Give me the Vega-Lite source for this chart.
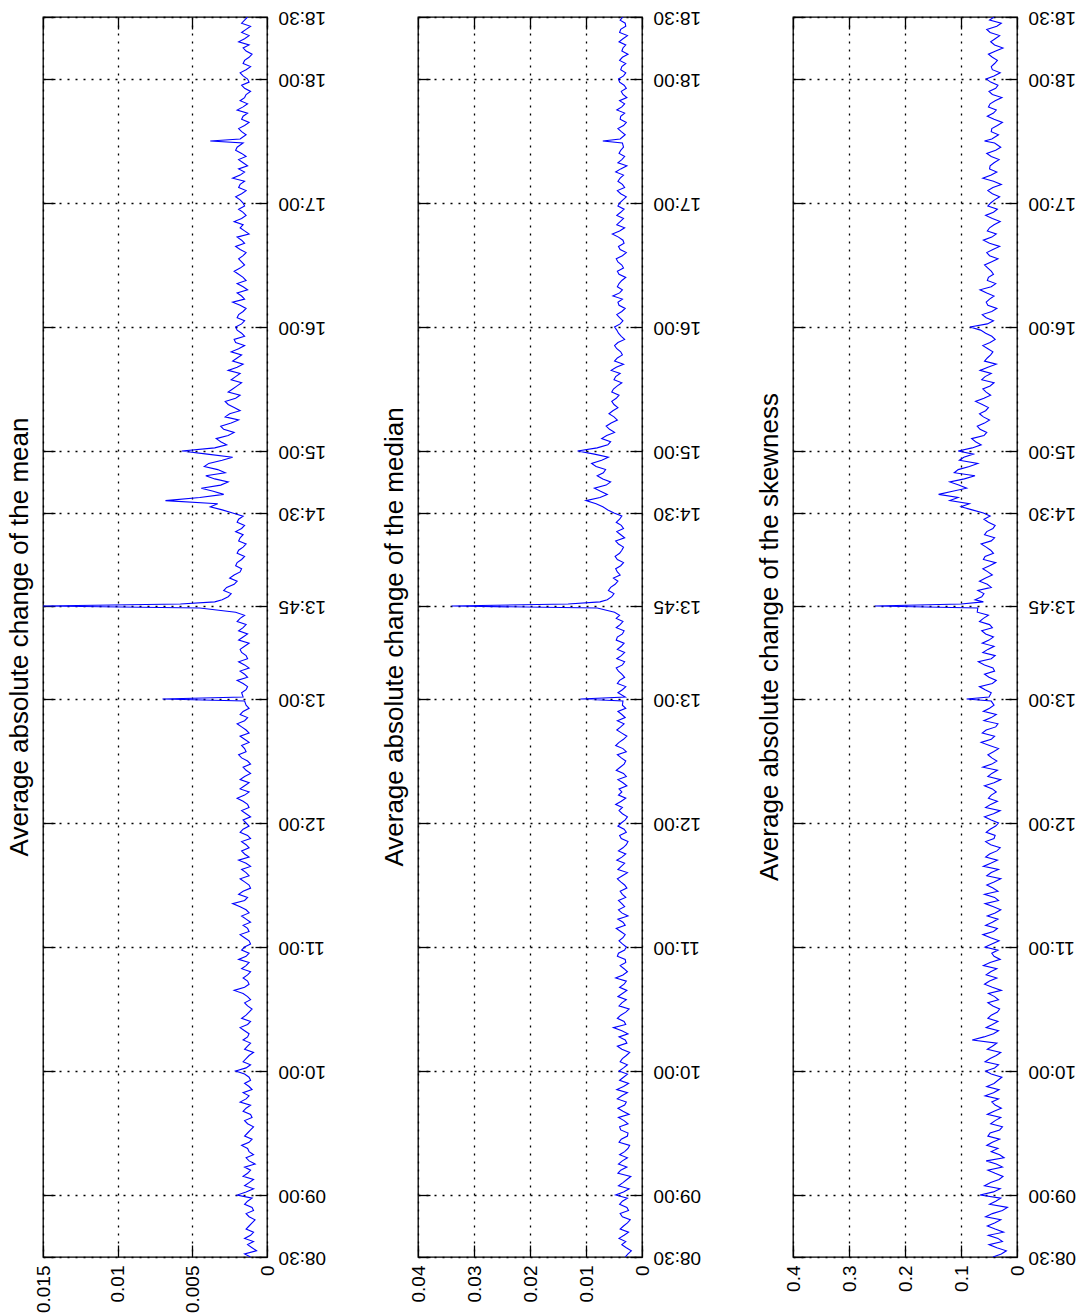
{
"$schema": "https://vega.github.io/schema/vega-lite/v6.json",
"padding": {"left": 6, "top": 6, "right": 0, "bottom": 0},
"bounds": "flush",
"spacing": 151,
"datasets": {"d": [
{"m":510,"a":0.0011,"b":0.0030,"c":0.043},
{"m":513,"a":0.0007,"b":0.0019,"c":0.019},
{"m":516,"a":0.0013,"b":0.0036,"c":0.050},
{"m":519,"a":0.0015,"b":0.0041,"c":0.034},
{"m":522,"a":0.0009,"b":0.0024,"c":0.024},
{"m":525,"a":0.0012,"b":0.0033,"c":0.053},
{"m":528,"a":0.0008,"b":0.0021,"c":0.029},
{"m":531,"a":0.0014,"b":0.0039,"c":0.044},
{"m":534,"a":0.0010,"b":0.0027,"c":0.017},
{"m":537,"a":0.0013,"b":0.0035,"c":0.038},
{"m":540,"a":0.0020,"b":0.0047,"c":0.066},
{"m":543,"a":0.0009,"b":0.0023,"c":0.030},
{"m":546,"a":0.0012,"b":0.0034,"c":0.047},
{"m":549,"a":0.0016,"b":0.0020,"c":0.025},
{"m":552,"a":0.0011,"b":0.0038,"c":0.052},
{"m":555,"a":0.0008,"b":0.0042,"c":0.037},
{"m":558,"a":0.0014,"b":0.0026,"c":0.023},
{"m":561,"a":0.0012,"b":0.0031,"c":0.046},
{"m":564,"a":0.0017,"b":0.0022,"c":0.054},
{"m":567,"a":0.0010,"b":0.0037,"c":0.031},
{"m":570,"a":0.0013,"b":0.0025,"c":0.048},
{"m":573,"a":0.0009,"b":0.0040,"c":0.026},
{"m":576,"a":0.0015,"b":0.0032,"c":0.039},
{"m":579,"a":0.0011,"b":0.0023,"c":0.053},
{"m":582,"a":0.0014,"b":0.0043,"c":0.028},
{"m":585,"a":0.0018,"b":0.0028,"c":0.045},
{"m":588,"a":0.0012,"b":0.0036,"c":0.057},
{"m":591,"a":0.0010,"b":0.0045,"c":0.032},
{"m":594,"a":0.0015,"b":0.0024,"c":0.041},
{"m":597,"a":0.0012,"b":0.0033,"c":0.027},
{"m":600,"a":0.0021,"b":0.0041,"c":0.056},
{"m":603,"a":0.0011,"b":0.0026,"c":0.033},
{"m":606,"a":0.0014,"b":0.0035,"c":0.048},
{"m":609,"a":0.0009,"b":0.0022,"c":0.029},
{"m":612,"a":0.0013,"b":0.0044,"c":0.044},
{"m":615,"a":0.0016,"b":0.0030,"c":0.080},
{"m":618,"a":0.0012,"b":0.0025,"c":0.042},
{"m":621,"a":0.0018,"b":0.0051,"c":0.055},
{"m":624,"a":0.0011,"b":0.0032,"c":0.034},
{"m":627,"a":0.0014,"b":0.0038,"c":0.046},
{"m":630,"a":0.0010,"b":0.0023,"c":0.031},
{"m":633,"a":0.0015,"b":0.0036,"c":0.052},
{"m":636,"a":0.0013,"b":0.0043,"c":0.040},
{"m":639,"a":0.0022,"b":0.0027,"c":0.028},
{"m":642,"a":0.0012,"b":0.0032,"c":0.058},
{"m":645,"a":0.0016,"b":0.0047,"c":0.036},
{"m":648,"a":0.0011,"b":0.0026,"c":0.047},
{"m":651,"a":0.0014,"b":0.0039,"c":0.060},
{"m":654,"a":0.0019,"b":0.0030,"c":0.030},
{"m":657,"a":0.0012,"b":0.0042,"c":0.045},
{"m":660,"a":0.0015,"b":0.0028,"c":0.057},
{"m":663,"a":0.0012,"b":0.0041,"c":0.032},
{"m":666,"a":0.0018,"b":0.0030,"c":0.061},
{"m":669,"a":0.0013,"b":0.0046,"c":0.035},
{"m":672,"a":0.0011,"b":0.0034,"c":0.044},
{"m":675,"a":0.0017,"b":0.0025,"c":0.053},
{"m":678,"a":0.0014,"b":0.0042,"c":0.029},
{"m":681,"a":0.0023,"b":0.0036,"c":0.057},
{"m":684,"a":0.0013,"b":0.0029,"c":0.040},
{"m":687,"a":0.0016,"b":0.0039,"c":0.034},
{"m":690,"a":0.0012,"b":0.0031,"c":0.054},
{"m":693,"a":0.0018,"b":0.0044,"c":0.029},
{"m":696,"a":0.0014,"b":0.0026,"c":0.046},
{"m":699,"a":0.0011,"b":0.0037,"c":0.060},
{"m":702,"a":0.0019,"b":0.0045,"c":0.035},
{"m":705,"a":0.0015,"b":0.0029,"c":0.049},
{"m":708,"a":0.0012,"b":0.0034,"c":0.030},
{"m":711,"a":0.0017,"b":0.0025,"c":0.056},
{"m":714,"a":0.0013,"b":0.0040,"c":0.039},
{"m":717,"a":0.0016,"b":0.0032,"c":0.048},
{"m":720,"a":0.0014,"b":0.0037,"c":0.033},
{"m":723,"a":0.0011,"b":0.0026,"c":0.058},
{"m":726,"a":0.0017,"b":0.0041,"c":0.030},
{"m":729,"a":0.0013,"b":0.0047,"c":0.047},
{"m":732,"a":0.0020,"b":0.0029,"c":0.051},
{"m":735,"a":0.0012,"b":0.0036,"c":0.037},
{"m":738,"a":0.0015,"b":0.0027,"c":0.058},
{"m":741,"a":0.0018,"b":0.0043,"c":0.029},
{"m":744,"a":0.0011,"b":0.0033,"c":0.045},
{"m":747,"a":0.0016,"b":0.0039,"c":0.061},
{"m":750,"a":0.0013,"b":0.0029,"c":0.036},
{"m":753,"a":0.0019,"b":0.0044,"c":0.052},
{"m":756,"a":0.0015,"b":0.0034,"c":0.033},
{"m":759,"a":0.0012,"b":0.0041,"c":0.064},
{"m":762,"a":0.0018,"b":0.0027,"c":0.040},
{"m":765,"a":0.0014,"b":0.0045,"c":0.055},
{"m":768,"a":0.0020,"b":0.0032,"c":0.034},
{"m":771,"a":0.0013,"b":0.0030,"c":0.046},
{"m":774,"a":0.0016,"b":0.0043,"c":0.060},
{"m":777,"a":0.0014,"b":0.0035,"c":0.041},
{"m":779,"a":0.0015,"b":0.0034,"c":0.046},
{"m":780,"a":0.0070,"b":0.0110,"c":0.090},
{"m":781,"a":0.0016,"b":0.0030,"c":0.050},
{"m":783,"a":0.0017,"b":0.0043,"c":0.046},
{"m":786,"a":0.0013,"b":0.0029,"c":0.067},
{"m":789,"a":0.0020,"b":0.0040,"c":0.037},
{"m":792,"a":0.0015,"b":0.0036,"c":0.058},
{"m":795,"a":0.0012,"b":0.0046,"c":0.043},
{"m":798,"a":0.0019,"b":0.0031,"c":0.069},
{"m":801,"a":0.0014,"b":0.0037,"c":0.039},
{"m":804,"a":0.0018,"b":0.0044,"c":0.052},
{"m":807,"a":0.0012,"b":0.0032,"c":0.062},
{"m":810,"a":0.0016,"b":0.0044,"c":0.042},
{"m":813,"a":0.0019,"b":0.0032,"c":0.063},
{"m":816,"a":0.0014,"b":0.0039,"c":0.049},
{"m":819,"a":0.0018,"b":0.0046,"c":0.060},
{"m":822,"a":0.0021,"b":0.0049,"c":0.071},
{"m":824,"a":0.0045,"b":0.0080,"c":0.070},
{"m":825,"a":0.0150,"b":0.0340,"c":0.254},
{"m":826,"a":0.0058,"b":0.0132,"c":0.100},
{"m":827,"a":0.0035,"b":0.0075,"c":0.060},
{"m":828,"a":0.0030,"b":0.0062,"c":0.075},
{"m":831,"a":0.0024,"b":0.0050,"c":0.059},
{"m":834,"a":0.0027,"b":0.0056,"c":0.046},
{"m":837,"a":0.0020,"b":0.0043,"c":0.067},
{"m":840,"a":0.0022,"b":0.0039,"c":0.044},
{"m":843,"a":0.0017,"b":0.0047,"c":0.061},
{"m":846,"a":0.0020,"b":0.0033,"c":0.038},
{"m":849,"a":0.0015,"b":0.0048,"c":0.057},
{"m":852,"a":0.0019,"b":0.0036,"c":0.047},
{"m":855,"a":0.0014,"b":0.0042,"c":0.064},
{"m":858,"a":0.0018,"b":0.0031,"c":0.040},
{"m":861,"a":0.0021,"b":0.0045,"c":0.054},
{"m":864,"a":0.0015,"b":0.0037,"c":0.039},
{"m":867,"a":0.0019,"b":0.0040,"c":0.059},
{"m":870,"a":0.0023,"b":0.0050,"c":0.060},
{"m":873,"a":0.0038,"b":0.0070,"c":0.100},
{"m":876,"a":0.0068,"b":0.0100,"c":0.120},
{"m":879,"a":0.0029,"b":0.0062,"c":0.140},
{"m":882,"a":0.0044,"b":0.0085,"c":0.090},
{"m":885,"a":0.0026,"b":0.0056,"c":0.120},
{"m":888,"a":0.0041,"b":0.0080,"c":0.075},
{"m":891,"a":0.0033,"b":0.0065,"c":0.105},
{"m":894,"a":0.0039,"b":0.0090,"c":0.070},
{"m":897,"a":0.0023,"b":0.0060,"c":0.095},
{"m":900,"a":0.0057,"b":0.0115,"c":0.105},
{"m":903,"a":0.0027,"b":0.0061,"c":0.064},
{"m":906,"a":0.0034,"b":0.0072,"c":0.081},
{"m":909,"a":0.0022,"b":0.0049,"c":0.054},
{"m":912,"a":0.0031,"b":0.0064,"c":0.071},
{"m":915,"a":0.0019,"b":0.0044,"c":0.049},
{"m":918,"a":0.0025,"b":0.0059,"c":0.067},
{"m":921,"a":0.0022,"b":0.0043,"c":0.051},
{"m":924,"a":0.0028,"b":0.0054,"c":0.074},
{"m":927,"a":0.0018,"b":0.0041,"c":0.047},
{"m":930,"a":0.0023,"b":0.0051,"c":0.061},
{"m":933,"a":0.0017,"b":0.0036,"c":0.041},
{"m":936,"a":0.0021,"b":0.0047,"c":0.057},
{"m":939,"a":0.0026,"b":0.0055,"c":0.066},
{"m":942,"a":0.0016,"b":0.0033,"c":0.037},
{"m":945,"a":0.0020,"b":0.0044,"c":0.053},
{"m":948,"a":0.0024,"b":0.0038,"c":0.043},
{"m":951,"a":0.0015,"b":0.0049,"c":0.061},
{"m":954,"a":0.0022,"b":0.0031,"c":0.039},
{"m":957,"a":0.0017,"b":0.0042,"c":0.056},
{"m":960,"a":0.0021,"b":0.0049,"c":0.084},
{"m":963,"a":0.0015,"b":0.0034,"c":0.042},
{"m":966,"a":0.0019,"b":0.0045,"c":0.062},
{"m":969,"a":0.0014,"b":0.0030,"c":0.036},
{"m":972,"a":0.0023,"b":0.0043,"c":0.055},
{"m":975,"a":0.0017,"b":0.0052,"c":0.041},
{"m":978,"a":0.0013,"b":0.0035,"c":0.066},
{"m":981,"a":0.0020,"b":0.0041,"c":0.038},
{"m":984,"a":0.0016,"b":0.0029,"c":0.051},
{"m":987,"a":0.0022,"b":0.0044,"c":0.046},
{"m":990,"a":0.0015,"b":0.0036,"c":0.058},
{"m":993,"a":0.0019,"b":0.0046,"c":0.034},
{"m":996,"a":0.0014,"b":0.0028,"c":0.054},
{"m":999,"a":0.0021,"b":0.0042,"c":0.031},
{"m":1002,"a":0.0017,"b":0.0034,"c":0.060},
{"m":1005,"a":0.0012,"b":0.0053,"c":0.037},
{"m":1008,"a":0.0018,"b":0.0031,"c":0.049},
{"m":1011,"a":0.0022,"b":0.0039,"c":0.030},
{"m":1014,"a":0.0014,"b":0.0045,"c":0.056},
{"m":1017,"a":0.0019,"b":0.0032,"c":0.035},
{"m":1020,"a":0.0016,"b":0.0040,"c":0.047},
{"m":1023,"a":0.0021,"b":0.0028,"c":0.031},
{"m":1026,"a":0.0014,"b":0.0044,"c":0.052},
{"m":1029,"a":0.0018,"b":0.0035,"c":0.028},
{"m":1032,"a":0.0023,"b":0.0039,"c":0.061},
{"m":1035,"a":0.0015,"b":0.0047,"c":0.036},
{"m":1038,"a":0.0013,"b":0.0027,"c":0.048},
{"m":1041,"a":0.0019,"b":0.0036,"c":0.032},
{"m":1044,"a":0.0017,"b":0.0041,"c":0.054},
{"m":1047,"a":0.0020,"b":0.0033,"c":0.029},
{"m":1049,"a":0.0016,"b":0.0035,"c":0.040},
{"m":1050,"a":0.0038,"b":0.0070,"c":0.058},
{"m":1051,"a":0.0018,"b":0.0039,"c":0.045},
{"m":1053,"a":0.0014,"b":0.0030,"c":0.033},
{"m":1056,"a":0.0019,"b":0.0043,"c":0.045},
{"m":1059,"a":0.0012,"b":0.0028,"c":0.026},
{"m":1062,"a":0.0016,"b":0.0038,"c":0.053},
{"m":1065,"a":0.0020,"b":0.0045,"c":0.037},
{"m":1068,"a":0.0013,"b":0.0031,"c":0.048},
{"m":1071,"a":0.0015,"b":0.0027,"c":0.027},
{"m":1074,"a":0.0011,"b":0.0037,"c":0.050},
{"m":1077,"a":0.0017,"b":0.0032,"c":0.034},
{"m":1080,"a":0.0013,"b":0.0042,"c":0.055},
{"m":1083,"a":0.0018,"b":0.0029,"c":0.030},
{"m":1086,"a":0.0011,"b":0.0036,"c":0.046},
{"m":1089,"a":0.0015,"b":0.0040,"c":0.035},
{"m":1092,"a":0.0010,"b":0.0025,"c":0.051},
{"m":1095,"a":0.0016,"b":0.0034,"c":0.025},
{"m":1098,"a":0.0019,"b":0.0041,"c":0.047},
{"m":1101,"a":0.0012,"b":0.0026,"c":0.031},
{"m":1104,"a":0.0014,"b":0.0038,"c":0.054},
{"m":1107,"a":0.0017,"b":0.0030,"c":0.028},
{"m":1110,"a":0.0013,"b":0.0034,"c":0.041},
{"m":511.5,"a":0.0015,"b":0.0025,"c":0.028},
{"m":514.5,"a":0.0010,"b":0.0028,"c":0.036},
{"m":517.5,"a":0.0009,"b":0.0029,"c":0.026},
{"m":520.5,"a":0.0011,"b":0.0032,"c":0.051},
{"m":523.5,"a":0.0014,"b":0.0039,"c":0.039},
{"m":526.5,"a":0.0010,"b":0.0026,"c":0.040},
{"m":529.5,"a":0.0012,"b":0.0035,"c":0.056},
{"m":532.5,"a":0.0009,"b":0.0024,"c":0.026},
{"m":535.5,"a":0.0015,"b":0.0040,"c":0.049},
{"m":538.5,"a":0.0010,"b":0.0026,"c":0.029},
{"m":541.5,"a":0.0014,"b":0.0033,"c":0.042},
{"m":544.5,"a":0.0015,"b":0.0042,"c":0.058},
{"m":547.5,"a":0.0009,"b":0.0027,"c":0.032},
{"m":550.5,"a":0.0013,"b":0.0043,"c":0.039},
{"m":553.5,"a":0.0015,"b":0.0027,"c":0.026},
{"m":556.5,"a":0.0012,"b":0.0035,"c":0.055},
{"m":559.5,"a":0.0009,"b":0.0040,"c":0.031},
{"m":562.5,"a":0.0013,"b":0.0025,"c":0.034},
{"m":565.5,"a":0.0012,"b":0.0041,"c":0.044},
{"m":568.5,"a":0.0015,"b":0.0026,"c":0.052},
{"m":571.5,"a":0.0011,"b":0.0038,"c":0.031},
{"m":574.5,"a":0.0013,"b":0.0025,"c":0.047},
{"m":577.5,"a":0.0010,"b":0.0042,"c":0.029},
{"m":580.5,"a":0.0016,"b":0.0034,"c":0.041},
{"m":583.5,"a":0.0011,"b":0.0031,"c":0.039},
{"m":586.5,"a":0.0014,"b":0.0044,"c":0.033},
{"m":589.5,"a":0.0016,"b":0.0026,"c":0.042},
{"m":592.5,"a":0.0012,"b":0.0033,"c":0.054},
{"m":595.5,"a":0.0011,"b":0.0040,"c":0.034},
{"m":598.5,"a":0.0015,"b":0.0026,"c":0.046},
{"m":601.5,"a":0.0014,"b":0.0033,"c":0.040},
{"m":604.5,"a":0.0016,"b":0.0039,"c":0.057},
{"m":607.5,"a":0.0012,"b":0.0028,"c":0.037},
{"m":610.5,"a":0.0015,"b":0.0036,"c":0.053},
{"m":613.5,"a":0.0011,"b":0.0027,"c":0.036},
{"m":616.5,"a":0.0013,"b":0.0041,"c":0.059},
{"m":619.5,"a":0.0015,"b":0.0036,"c":0.033},
{"m":622.5,"a":0.0013,"b":0.0029,"c":0.044},
{"m":625.5,"a":0.0017,"b":0.0044,"c":0.052},
{"m":628.5,"a":0.0012,"b":0.0029,"c":0.035},
{"m":631.5,"a":0.0013,"b":0.0041,"c":0.043},
{"m":634.5,"a":0.0011,"b":0.0028,"c":0.033},
{"m":637.5,"a":0.0016,"b":0.0035,"c":0.051},
{"m":640.5,"a":0.0015,"b":0.0040,"c":0.044},
{"m":643.5,"a":0.0013,"b":0.0028,"c":0.049},
{"m":646.5,"a":0.0013,"b":0.0034,"c":0.055},
{"m":649.5,"a":0.0017,"b":0.0032,"c":0.036},
{"m":652.5,"a":0.0012,"b":0.0029,"c":0.048},
{"m":655.5,"a":0.0014,"b":0.0044,"c":0.041},
{"m":658.5,"a":0.0017,"b":0.0031,"c":0.034},
{"m":661.5,"a":0.0011,"b":0.0035,"c":0.045},
{"m":664.5,"a":0.0015,"b":0.0034,"c":0.047},
{"m":667.5,"a":0.0012,"b":0.0038,"c":0.042},
{"m":670.5,"a":0.0016,"b":0.0030,"c":0.056},
{"m":673.5,"a":0.0014,"b":0.0043,"c":0.034},
{"m":676.5,"a":0.0012,"b":0.0036,"c":0.039},
{"m":679.5,"a":0.0018,"b":0.0031,"c":0.042},
{"m":682.5,"a":0.0015,"b":0.0042,"c":0.033},
{"m":685.5,"a":0.0019,"b":0.0035,"c":0.058},
{"m":688.5,"a":0.0011,"b":0.0027,"c":0.043},
{"m":691.5,"a":0.0015,"b":0.0038,"c":0.041},
{"m":694.5,"a":0.0012,"b":0.0035,"c":0.054},
{"m":697.5,"a":0.0017,"b":0.0043,"c":0.033},
{"m":700.5,"a":0.0014,"b":0.0031,"c":0.047},
{"m":703.5,"a":0.0012,"b":0.0036,"c":0.056},
{"m":706.5,"a":0.0017,"b":0.0042,"c":0.036},
{"m":709.5,"a":0.0014,"b":0.0028,"c":0.047},
{"m":712.5,"a":0.0011,"b":0.0037,"c":0.041},
{"m":715.5,"a":0.0018,"b":0.0028,"c":0.055},
{"m":718.5,"a":0.0012,"b":0.0043,"c":0.038},
{"m":721.5,"a":0.0016,"b":0.0030,"c":0.046},
{"m":724.5,"a":0.0014,"b":0.0035,"c":0.042},
{"m":727.5,"a":0.0012,"b":0.0035,"c":0.056},
{"m":730.5,"a":0.0016,"b":0.0037,"c":0.035},
{"m":733.5,"a":0.0015,"b":0.0042,"c":0.046},
{"m":736.5,"a":0.0018,"b":0.0041,"c":0.044},
{"m":739.5,"a":0.0012,"b":0.0034,"c":0.041},
{"m":742.5,"a":0.0015,"b":0.0028,"c":0.052},
{"m":745.5,"a":0.0014,"b":0.0046,"c":0.035},
{"m":748.5,"a":0.0011,"b":0.0032,"c":0.045},
{"m":751.5,"a":0.0017,"b":0.0037,"c":0.045},
{"m":754.5,"a":0.0014,"b":0.0028,"c":0.042},
{"m":757.5,"a":0.0017,"b":0.0047,"c":0.049},
{"m":760.5,"a":0.0015,"b":0.0033,"c":0.046},
{"m":763.5,"a":0.0012,"b":0.0036,"c":0.062},
{"m":766.5,"a":0.0017,"b":0.0038,"c":0.038},
{"m":769.5,"a":0.0015,"b":0.0044,"c":0.059},
{"m":772.5,"a":0.0018,"b":0.0036,"c":0.037},
{"m":775.5,"a":0.0012,"b":0.0029,"c":0.049},
{"m":784.5,"a":0.0014,"b":0.0035,"c":0.057},
{"m":787.5,"a":0.0016,"b":0.0044,"c":0.044},
{"m":790.5,"a":0.0013,"b":0.0031,"c":0.050},
{"m":793.5,"a":0.0018,"b":0.0042,"c":0.040},
{"m":796.5,"a":0.0015,"b":0.0035,"c":0.058},
{"m":799.5,"a":0.0013,"b":0.0045,"c":0.046},
{"m":802.5,"a":0.0017,"b":0.0031,"c":0.061},
{"m":805.5,"a":0.0015,"b":0.0037,"c":0.041},
{"m":808.5,"a":0.0019,"b":0.0046,"c":0.050},
{"m":811.5,"a":0.0013,"b":0.0035,"c":0.056},
{"m":814.5,"a":0.0016,"b":0.0046,"c":0.044},
{"m":817.5,"a":0.0020,"b":0.0034,"c":0.067},
{"m":820.5,"a":0.0015,"b":0.0040,"c":0.051},
{"m":829.5,"a":0.0026,"b":0.0054,"c":0.063},
{"m":832.5,"a":0.0029,"b":0.0060,"c":0.070},
{"m":835.5,"a":0.0022,"b":0.0048,"c":0.053},
{"m":838.5,"a":0.0025,"b":0.0051,"c":0.056},
{"m":841.5,"a":0.0018,"b":0.0044,"c":0.052},
{"m":844.5,"a":0.0021,"b":0.0038,"c":0.049},
{"m":847.5,"a":0.0017,"b":0.0044,"c":0.060},
{"m":850.5,"a":0.0020,"b":0.0040,"c":0.042},
{"m":853.5,"a":0.0016,"b":0.0033,"c":0.055},
{"m":856.5,"a":0.0019,"b":0.0047,"c":0.046},
{"m":859.5,"a":0.0016,"b":0.0038,"c":0.058},
{"m":862.5,"a":0.0017,"b":0.0033,"c":0.043},
{"m":865.5,"a":0.0020,"b":0.0046,"c":0.051},
{"m":868.5,"a":0.0016,"b":0.0036,"c":0.048},
{"m":871.5,"a":0.0030,"b":0.0061,"c":0.080},
{"m":874.5,"a":0.0033,"b":0.0082,"c":0.085},
{"m":877.5,"a":0.0045,"b":0.0075,"c":0.105},
{"m":880.5,"a":0.0036,"b":0.0074,"c":0.115},
{"m":883.5,"a":0.0031,"b":0.0064,"c":0.104},
{"m":886.5,"a":0.0035,"b":0.0070,"c":0.094},
{"m":889.5,"a":0.0028,"b":0.0069,"c":0.112},
{"m":892.5,"a":0.0042,"b":0.0082,"c":0.085},
{"m":895.5,"a":0.0030,"b":0.0072,"c":0.103},
{"m":898.5,"a":0.0040,"b":0.0085,"c":0.078},
{"m":901.5,"a":0.0035,"b":0.0080,"c":0.080},
{"m":904.5,"a":0.0031,"b":0.0056,"c":0.074},
{"m":907.5,"a":0.0026,"b":0.0063,"c":0.059},
{"m":910.5,"a":0.0029,"b":0.0058,"c":0.066},
{"m":913.5,"a":0.0024,"b":0.0055,"c":0.058},
{"m":916.5,"a":0.0028,"b":0.0050,"c":0.060},
{"m":919.5,"a":0.0018,"b":0.0052,"c":0.056},
{"m":922.5,"a":0.0026,"b":0.0050,"c":0.062},
{"m":925.5,"a":0.0021,"b":0.0046,"c":0.059},
{"m":928.5,"a":0.0026,"b":0.0054,"c":0.055},
{"m":931.5,"a":0.0020,"b":0.0044,"c":0.048},
{"m":934.5,"a":0.0024,"b":0.0050,"c":0.063},
{"m":937.5,"a":0.0018,"b":0.0039,"c":0.046},
{"m":940.5,"a":0.0020,"b":0.0046,"c":0.052},
{"m":943.5,"a":0.0023,"b":0.0049,"c":0.058},
{"m":946.5,"a":0.0017,"b":0.0035,"c":0.047},
{"m":949.5,"a":0.0019,"b":0.0045,"c":0.052},
{"m":952.5,"a":0.0021,"b":0.0043,"c":0.048},
{"m":955.5,"a":0.0015,"b":0.0037,"c":0.045},
{"m":958.5,"a":0.0020,"b":0.0045,"c":0.065},
{"m":961.5,"a":0.0017,"b":0.0039,"c":0.053},
{"m":964.5,"a":0.0020,"b":0.0040,"c":0.055},
{"m":967.5,"a":0.0016,"b":0.0036,"c":0.045},
{"m":970.5,"a":0.0018,"b":0.0041,"c":0.052},
{"m":973.5,"a":0.0015,"b":0.0035,"c":0.049},
{"m":976.5,"a":0.0020,"b":0.0040,"c":0.054},
{"m":979.5,"a":0.0016,"b":0.0044,"c":0.046},
{"m":982.5,"a":0.0014,"b":0.0036,"c":0.053},
{"m":985.5,"a":0.0019,"b":0.0041,"c":0.042},
{"m":988.5,"a":0.0018,"b":0.0033,"c":0.052},
{"m":991.5,"a":0.0017,"b":0.0043,"c":0.046},
{"m":994.5,"a":0.0016,"b":0.0035,"c":0.049},
{"m":997.5,"a":0.0018,"b":0.0039,"c":0.043},
{"m":1000.5,"a":0.0015,"b":0.0032,"c":0.049},
{"m":1003.5,"a":0.0020,"b":0.0042,"c":0.045},
{"m":1006.5,"a":0.0015,"b":0.0040,"c":0.053},
{"m":1009.5,"a":0.0016,"b":0.0045,"c":0.041},
{"m":1012.5,"a":0.0017,"b":0.0033,"c":0.044},
{"m":1015.5,"a":0.0016,"b":0.0038,"c":0.042},
{"m":1018.5,"a":0.0015,"b":0.0043,"c":0.052},
{"m":1021.5,"a":0.0018,"b":0.0034,"c":0.040},
{"m":1024.5,"a":0.0017,"b":0.0038,"c":0.044},
{"m":1027.5,"a":0.0019,"b":0.0031,"c":0.043},
{"m":1030.5,"a":0.0015,"b":0.0043,"c":0.042},
{"m":1033.5,"a":0.0018,"b":0.0033,"c":0.046},
{"m":1036.5,"a":0.0019,"b":0.0038,"c":0.049},
{"m":1039.5,"a":0.0016,"b":0.0043,"c":0.041},
{"m":1042.5,"a":0.0014,"b":0.0031,"c":0.046},
{"m":1045.5,"a":0.0021,"b":0.0038,"c":0.038},
{"m":1054.5,"a":0.0017,"b":0.0037,"c":0.046},
{"m":1057.5,"a":0.0015,"b":0.0033,"c":0.035},
{"m":1060.5,"a":0.0017,"b":0.0039,"c":0.041},
{"m":1063.5,"a":0.0013,"b":0.0031,"c":0.042},
{"m":1066.5,"a":0.0016,"b":0.0036,"c":0.051},
{"m":1069.5,"a":0.0018,"b":0.0040,"c":0.039},
{"m":1072.5,"a":0.0014,"b":0.0034,"c":0.044},
{"m":1075.5,"a":0.0015,"b":0.0028,"c":0.038},
{"m":1078.5,"a":0.0012,"b":0.0040,"c":0.047},
{"m":1081.5,"a":0.0016,"b":0.0033,"c":0.041},
{"m":1084.5,"a":0.0014,"b":0.0038,"c":0.044},
{"m":1087.5,"a":0.0016,"b":0.0029,"c":0.040},
{"m":1090.5,"a":0.0012,"b":0.0035,"c":0.044},
{"m":1093.5,"a":0.0014,"b":0.0036,"c":0.038},
{"m":1096.5,"a":0.0012,"b":0.0029,"c":0.040},
{"m":1099.5,"a":0.0015,"b":0.0034,"c":0.039},
{"m":1102.5,"a":0.0017,"b":0.0040,"c":0.048},
{"m":1105.5,"a":0.0011,"b":0.0029,"c":0.036},
{"m":1108.5,"a":0.0015,"b":0.0039,"c":0.049}
]},
"hconcat": [
{
 "width": 224, "height": 1240,
 "data": {"name": "d"},
 "title": {"text": "Average absolute change of the mean", "orient": "left", "anchor": "middle", "offset": 1},
 "layer": [
  {"mark": {"type": "line", "color": "#0000ff", "strokeWidth": 1.1, "clip": true},
   "encoding": {
    "x": {"field": "a", "type": "quantitative", "scale": {"domain": [0, 0.015], "reverse": true, "nice": false},
          "axis": {"orient": "bottom", "values": [0, 0.005, 0.01, 0.015], "format": ".3~g", "labelAngle": 270, "labelAlign": "right", "labelBaseline": "middle", "labelPadding": 20, "tickSize": -12, "grid": true, "title": null}},
    "y": {"field": "m", "type": "quantitative", "scale": {"domain": [510, 1110], "nice": false, "zero": false},
          "axis": {"orient": "right", "values": [510,540,600,660,720,780,825,870,900,960,1020,1080,1110], "labelExpr": "(datum.value < 600 ? '0' : '') + floor(datum.value/60) + ':' + (datum.value % 60 < 10 ? '0' : '') + (datum.value % 60)", "labelAngle": 180, "labelAlign": "right", "labelBaseline": "middle", "labelPadding": 23, "tickSize": -12, "grid": true, "title": null}},
    "order": {"field": "m", "type": "quantitative"}
   }},
  {"mark": {"type": "line", "opacity": 0},
   "encoding": {
    "x": {"field": "a", "type": "quantitative", "axis": {"orient": "top", "values": [0, 0.005, 0.01, 0.015], "labels": false, "tickSize": -12, "grid": false, "title": null}},
    "y": {"field": "m", "type": "quantitative", "axis": {"orient": "left", "values": [510,540,600,660,720,780,825,870,900,960,1020,1080,1110], "labels": false, "tickSize": -12, "grid": false, "title": null}},
    "order": {"field": "m", "type": "quantitative"}
   }}
 ],
 "resolve": {"axis": {"x": "independent", "y": "independent"}}
},
{
 "width": 224, "height": 1240,
 "data": {"name": "d"},
 "title": {"text": "Average absolute change of the median", "orient": "left", "anchor": "middle", "offset": 1},
 "layer": [
  {"mark": {"type": "line", "color": "#0000ff", "strokeWidth": 1.1, "clip": true},
   "encoding": {
    "x": {"field": "b", "type": "quantitative", "scale": {"domain": [0, 0.04], "reverse": true, "nice": false},
          "axis": {"orient": "bottom", "values": [0, 0.01, 0.02, 0.03, 0.04], "format": ".3~g", "labelAngle": 270, "labelAlign": "right", "labelBaseline": "middle", "labelPadding": 20, "tickSize": -12, "grid": true, "title": null}},
    "y": {"field": "m", "type": "quantitative", "scale": {"domain": [510, 1110], "nice": false, "zero": false},
          "axis": {"orient": "right", "values": [510,540,600,660,720,780,825,870,900,960,1020,1080,1110], "labelExpr": "(datum.value < 600 ? '0' : '') + floor(datum.value/60) + ':' + (datum.value % 60 < 10 ? '0' : '') + (datum.value % 60)", "labelAngle": 180, "labelAlign": "right", "labelBaseline": "middle", "labelPadding": 23, "tickSize": -12, "grid": true, "title": null}},
    "order": {"field": "m", "type": "quantitative"}
   }},
  {"mark": {"type": "line", "opacity": 0},
   "encoding": {
    "x": {"field": "b", "type": "quantitative", "axis": {"orient": "top", "values": [0, 0.01, 0.02, 0.03, 0.04], "labels": false, "tickSize": -12, "grid": false, "title": null}},
    "y": {"field": "m", "type": "quantitative", "axis": {"orient": "left", "values": [510,540,600,660,720,780,825,870,900,960,1020,1080,1110], "labels": false, "tickSize": -12, "grid": false, "title": null}},
    "order": {"field": "m", "type": "quantitative"}
   }}
 ],
 "resolve": {"axis": {"x": "independent", "y": "independent"}}
},
{
 "width": 224, "height": 1240,
 "data": {"name": "d"},
 "title": {"text": "Average absolute change of the skewness", "orient": "left", "anchor": "middle", "offset": 1},
 "layer": [
  {"mark": {"type": "line", "color": "#0000ff", "strokeWidth": 1.1, "clip": true},
   "encoding": {
    "x": {"field": "c", "type": "quantitative", "scale": {"domain": [0, 0.4], "reverse": true, "nice": false},
          "axis": {"orient": "bottom", "values": [0, 0.1, 0.2, 0.3, 0.4], "format": ".3~g", "labelAngle": 270, "labelAlign": "right", "labelBaseline": "middle", "labelPadding": 20, "tickSize": -12, "grid": true, "title": null}},
    "y": {"field": "m", "type": "quantitative", "scale": {"domain": [510, 1110], "nice": false, "zero": false},
          "axis": {"orient": "right", "values": [510,540,600,660,720,780,825,870,900,960,1020,1080,1110], "labelExpr": "(datum.value < 600 ? '0' : '') + floor(datum.value/60) + ':' + (datum.value % 60 < 10 ? '0' : '') + (datum.value % 60)", "labelAngle": 180, "labelAlign": "right", "labelBaseline": "middle", "labelPadding": 23, "tickSize": -12, "grid": true, "title": null}},
    "order": {"field": "m", "type": "quantitative"}
   }},
  {"mark": {"type": "line", "opacity": 0},
   "encoding": {
    "x": {"field": "c", "type": "quantitative", "axis": {"orient": "top", "values": [0, 0.1, 0.2, 0.3, 0.4], "labels": false, "tickSize": -12, "grid": false, "title": null}},
    "y": {"field": "m", "type": "quantitative", "axis": {"orient": "left", "values": [510,540,600,660,720,780,825,870,900,960,1020,1080,1110], "labels": false, "tickSize": -12, "grid": false, "title": null}},
    "order": {"field": "m", "type": "quantitative"}
   }}
 ],
 "resolve": {"axis": {"x": "independent", "y": "independent"}}
}
],
"config": {
 "font": "Liberation Sans",
 "view": {"stroke": "black", "strokeWidth": 1.3},
 "axis": {"labelFont": "Liberation Sans", "labelFontSize": 19, "labelColor": "black", "tickColor": "black", "tickWidth": 1.3, "domain": false, "gridColor": "black", "gridDash": [2, 6], "gridWidth": 1.3, "gridOpacity": 1},
 "title": {"font": "Liberation Sans", "fontSize": 26, "fontWeight": "normal", "color": "black"}
}
}
